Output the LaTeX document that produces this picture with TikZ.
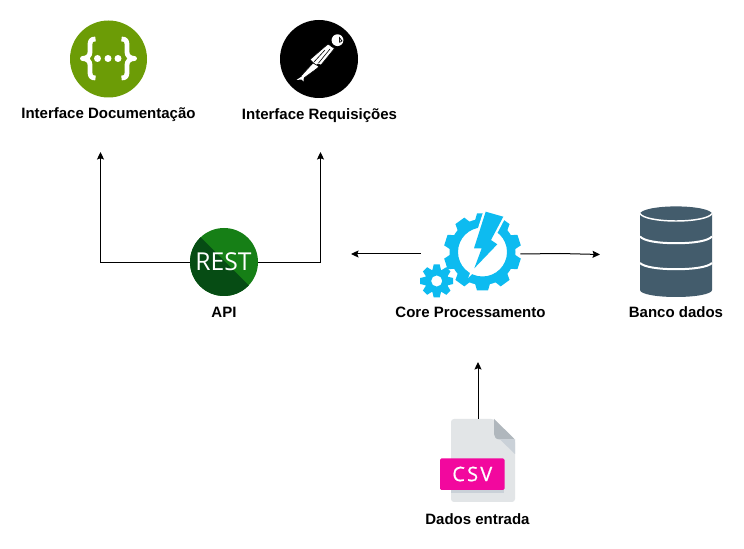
\documentclass[tikz,border=0pt]{standalone}
\usepackage{fontspec}
\setmainfont{Liberation Sans}
\newfontfamily\restfont{Open Sans}
\usetikzlibrary{arrows.meta}
\definecolor{swaggergreen}{HTML}{6C9C06}
\definecolor{restlight}{HTML}{167F16}
\definecolor{restdark}{HTML}{064C14}
\definecolor{gearblue}{HTML}{0DBBF0}
\definecolor{dbslate}{HTML}{435C6C}
\definecolor{docbody}{HTML}{E2E5E7}
\definecolor{docfold}{HTML}{B0B7BD}
\definecolor{docshade}{HTML}{CAD1D8}
\definecolor{csvpink}{HTML}{F2089E}
\tikzset{
  lbl/.style={font=\fontsize{11.25pt}{13pt}\selectfont\bfseries,text=black,inner sep=0pt,anchor=base},
  conn/.style={draw=black,line width=0.75pt,-{Stealth[length=5.6pt,width=5.25pt,inset=0.9pt]}},
  iconcircle/.style={circle,inner sep=0pt,minimum size=#1*0.75pt},
  figline/.style={draw=black,line width=0.45pt,fill=white},
  brace/.style={draw=white,line width=3.6pt,line cap=butt,line join=round}
}
\newcommand{\cog}[6]{% cx cy rbody rhole rtip teeth
  \fill[gearblue,even odd rule] (#1,#2) circle[radius=#3] (#1,#2) circle[radius=#4];
  \foreach \k in {1,...,#6}{
    \pgfmathsetmacro{\ang}{360*\k/#6+\gearoff}
    \begin{scope}[shift={(#1,#2)},rotate=\ang]
      \fill[gearblue] (#3-1.5,-\gearwa) -- (#5,-\gearwb) -- (#5,\gearwb) -- (#3-1.5,\gearwa) -- cycle;
    \end{scope}
  }
}
\begin{document}
\begin{tikzpicture}[x=0.75pt,y=-0.75pt]
\useasboundingbox (0,0) rectangle (744,549);
\fill[white] (0,0) rectangle (744,549);

% Swagger
\node[iconcircle=77,fill=swaggergreen] (swagger) at (108.5,59) {};
\draw[brace] (95.5,39) .. controls (91,39) and (90,41) .. (90,45) -- (90,52) .. controls (90,55.5) and (87.5,58.5) .. (82.5,58.5) .. controls (87.5,58.5) and (90,61.5) .. (90,65) -- (90,72) .. controls (90,76) and (91,78) .. (95.5,78);
\draw[brace] (121.5,39) .. controls (126,39) and (127,41) .. (127,45) -- (127,52) .. controls (127,55.5) and (129.5,58.5) .. (134.5,58.5) .. controls (129.5,58.5) and (127,61.5) .. (127,65) -- (127,72) .. controls (127,76) and (126,78) .. (121.5,78);
\fill[white] (97.5,58.5) circle[radius=3.5] (108,58.5) circle[radius=3.5] (118,58.5) circle[radius=3.5];
\node[lbl] (swaggerlabel) at (108.5,119) {Interface Documentação};

% Postman
\node[iconcircle=78,fill=black] (postman) at (319,59) {};
\fill[white] (337.5,40.2) circle[radius=5.9];
\fill[black] (339,36.5) -- (342.5,41) -- (339.3,43) -- cycle;
\fill[white] (339.8,38.6) -- (341,41) -- (340,41.6) -- cycle;
\draw[figline] (328,44) -- (334.5,48.5) -- (321,65) -- (318,64) -- (316,65.5) -- (310,59.5) -- cycle;
\draw[black,line width=0.45pt] (325,50) -- (314,62) (330,49) -- (318.5,63);
\draw[figline] (313,63) -- (319,66.5) -- (317,68.5) -- (304,78) -- (301,76) -- cycle;
\fill[white] (296.5,80) -- (304,75) -- (303.5,81.5) -- (301.5,79.5) -- cycle;
\node[lbl] (postmanlabel) at (319.5,120) {Interface Requisições};

% REST
\node[iconcircle=68,fill=restlight] (rest) at (224,262) {};
\begin{scope}
  \clip (224,262) circle[radius=34];
  \fill[restdark] (180,216.6) -- (270,306.6) -- (180,306.6) -- cycle;
\end{scope}
\node[inner sep=0pt,text=white,font=\restfont\fontsize{18.5pt}{20pt}\selectfont] (resttext) at (223.5,262) {REST};
\node[lbl] (apilabel) at (224,318) {API};

% Core gears
\def\gearoff{18}\def\gearwa{7.5}\def\gearwb{5.5}
\cog{482.5}{252}{33}{24.5}{38.5}{10}
\def\gearoff{0}\def\gearwa{4.4}\def\gearwb{3}
\cog{436.7}{281}{12}{5.6}{16.5}{8}
\draw[white,line width=3.5pt,line join=miter] (485.7,211.7) -- (503.3,216.7) -- (491,240) -- (497.3,244.3) -- (474.3,268.3) -- (481.7,248.3) -- (474,248.3) -- cycle;
\fill[gearblue] (485.7,211.7) -- (503.3,216.7) -- (491,240) -- (497.3,244.3) -- (474.3,268.3) -- (481.7,248.3) -- (474,248.3) -- cycle;
\node[inner sep=0pt,minimum width=74.25pt,minimum height=60pt] (core) at (470.5,254) {};
\node[lbl] (corelabel) at (470.5,318) {Core Processamento};

% Database
\fill[dbslate] (640,214) -- (640,290) .. controls (640,294) and (656,297) .. (676,297) .. controls (696,297) and (712,294) .. (712,290) -- (712,214) -- cycle;
\fill[dbslate] (676,214) ellipse[x radius=36,y radius=7.6];
\draw[white,line width=1.1pt] (640,213.5) .. controls (642,218) and (658,221) .. (676,221) .. controls (694,221) and (710,218) .. (712,213.5);
\draw[white,line width=1.5pt] (640,236.5) .. controls (644,241) and (658,243.2) .. (676,243.2) .. controls (694,243.2) and (708,241) .. (712,236.5);
\draw[white,line width=1.5pt] (640,263) .. controls (644,267) and (658,269.2) .. (676,269.2) .. controls (694,269.2) and (708,267) .. (712,263);
\node[inner sep=0pt,minimum width=54pt,minimum height=67.5pt] (db) at (676,252) {};
\node[lbl] (dblabel) at (676,318) {Banco dados};

% CSV document
\fill[docbody,rounded corners=2.25pt] (451,419) -- (494,419) -- (515,439.5) -- (515,502) -- (451,502) -- cycle;
\fill[docfold] (494,419) -- (515,439.5) -- (500,439.5) .. controls (496,439.5) and (494,437) .. (494,434) -- cycle;
\fill[docshade] (500,439.5) -- (515,439.5) -- (515,454) -- cycle;
\fill[docshade] (451,489) rectangle (504.3,493);
\fill[csvpink,rounded corners=1.1pt] (440,458.5) rectangle (504.5,490);
\node[inner sep=0pt,text=white,font=\restfont\fontsize{15pt}{17pt}\selectfont\addfontfeatures{LetterSpace=11,FakeBold=0.6}] (csvtext) at (472.3,474) {CSV};
\node[inner sep=0pt,minimum width=48pt,minimum height=62.25pt] (csv) at (478,460.5) {};
\node[lbl] (csvlabel) at (477.5,525) {Dados entrada};

% Connector ends
\coordinate (restline) at (224,262.5);
\coordinate (docarrow) at (100.5,152);
\coordinate (reqarrow) at (320.5,152);
\coordinate (apiarrow) at (351,254);
\coordinate (dbarrow) at (600,254.5);
\coordinate (corearrow) at (478,362);

% Connectors
\draw[conn] (rest.west |- restline) -- (100.5,262.5) -- (docarrow);
\draw[conn] (rest.east |- restline) -- (320.5,262.5) -- (reqarrow);
\draw[conn] (core.west) -- (apiarrow);
\draw[conn] (core.east) -- (560,253.5) -- (dbarrow);
\draw[conn] (csv.north) -- (corearrow);
\end{tikzpicture}
\end{document}
